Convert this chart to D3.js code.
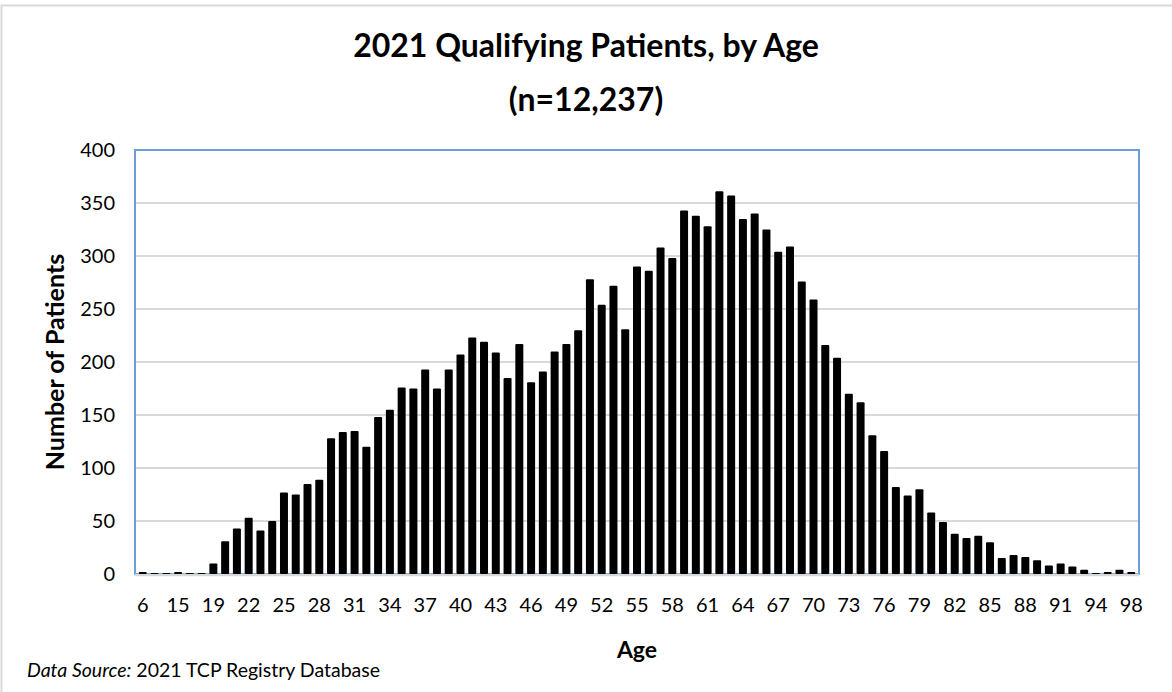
<!DOCTYPE html>
<html>
<head>
<meta charset="utf-8">
<script src="https://cdn.jsdelivr.net/npm/d3@7"></script>
<style>
  body { margin: 0; background: #fff; }
  text { font-family: Lato, "Open Sans", sans-serif; fill: #000; }
</style>
</head>
<body>
<div class="canva"></div>
<script>
// ages on the category axis (some young / old ages have no entry)
const ages = [6, 8, 13, 15, 17, 18, 19, 20, 21, 22, 23, 24, 25, 26, 27, 28, 29, 30,
  31, 32, 33, 34, 35, 36, 37, 38, 39, 40, 41, 42, 43, 44, 45, 46, 47, 48, 49, 50,
  51, 52, 53, 54, 55, 56, 57, 58, 59, 60, 61, 62, 63, 64, 65, 66, 67, 68, 69, 70,
  71, 72, 73, 74, 75, 76, 77, 78, 79, 80, 81, 82, 83, 84, 85, 86, 87, 88, 89, 90,
  91, 92, 93, 94, 95, 96, 98];

// number of patients per age
const patients = [2, 1, 1, 2, 1, 1, 10, 31, 43, 53, 41, 50, 77, 75, 85, 89, 128, 134,
  135, 120, 148, 155, 176, 175, 193, 175, 193, 207, 223, 219, 209, 185, 217, 181, 191, 210, 217, 230,
  278, 254, 272, 231, 290, 286, 308, 298, 343, 338, 328, 361, 357, 335, 340, 325, 304, 309, 276, 259,
  216, 204, 170, 162, 131, 116, 82, 74, 80, 58, 49, 38, 34, 36, 30, 15, 18, 16, 13, 8,
  10, 7, 4, 1, 2, 4, 2];

const yTicks = [0, 50, 100, 150, 200, 250, 300, 350, 400];

const W = 1172, H = 692;
const plotL = 135, plotR = 1139, plotT = 150, plotB = 574;

const svg = d3.select(".canva").append("svg")
    .attr("width", W)
    .attr("height", H);

// outer chart frame
svg.append("rect")
    .attr("x", 1.5).attr("y", 5.5)
    .attr("width", W + 10).attr("height", H + 10)
    .attr("fill", "none")
    .attr("stroke", "#d9d9d9")
    .attr("stroke-width", 2);

const x = d3.scaleBand()
    .domain(ages)
    .range([plotL, plotR])
    .padding(0.32);

const y = d3.scaleLinear()
    .domain([0, 400])
    .range([plotB, plotT]);

// gridlines
svg.append("g")
    .selectAll("line")
    .data(yTicks.filter(d => d > 0 && d < 400))
    .join("line")
    .attr("x1", plotL).attr("x2", plotR)
    .attr("y1", d => y(d)).attr("y2", d => y(d))
    .attr("stroke", "#d9d9d9")
    .attr("stroke-width", 2);

// plot area border
svg.append("rect")
    .attr("x", plotL).attr("y", plotT)
    .attr("width", plotR - plotL).attr("height", plotB - plotT)
    .attr("fill", "none")
    .attr("stroke", "#6a9fd8")
    .attr("stroke-width", 2);

// baseline
svg.append("line")
    .attr("x1", plotL).attr("x2", plotR)
    .attr("y1", plotB + 1).attr("y2", plotB + 1)
    .attr("stroke", "#d9d9d9")
    .attr("stroke-width", 2.5);

// bars
svg.append("g")
    .selectAll("rect")
    .data(ages)
    .join("rect")
    .attr("x", d => x(d))
    .attr("width", x.bandwidth())
    .attr("y", (d, i) => y(patients[i]))
    .attr("height", (d, i) => plotB - y(patients[i]))
    .attr("rx", 1)
    .attr("fill", "#000");

// y axis labels
const yAxis = d3.axisLeft(y).tickValues(yTicks).tickSize(0).tickPadding(20);
svg.append("g")
    .attr("transform", `translate(${plotL},0)`)
    .call(yAxis)
    .call(g => g.select(".domain").remove())
    .selectAll("text")
    .attr("font-size", 20)
    .attr("font-family", "Lato")
    .attr("fill", "#000");

// x axis labels, every third category
const xAxis = d3.axisBottom(x)
    .tickValues(ages.filter((d, i) => i % 3 === 0))
    .tickSize(0)
    .tickPadding(24);
svg.append("g")
    .attr("transform", `translate(0,${plotB})`)
    .call(xAxis)
    .call(g => g.select(".domain").remove())
    .selectAll("text")
    .attr("font-size", 20)
    .attr("font-family", "Lato")
    .attr("fill", "#000");

// titles
svg.append("text")
    .text("2021 Qualifying Patients, by Age")
    .attr("x", W / 2).attr("y", 57)
    .attr("text-anchor", "middle")
    .attr("font-weight", "bold")
    .attr("font-size", 32);

svg.append("text")
    .text("(n=12,237)")
    .attr("x", W / 2).attr("y", 111)
    .attr("text-anchor", "middle")
    .attr("font-weight", "bold")
    .attr("font-size", 32);

svg.append("text")
    .text("Number of Patients")
    .attr("transform", `translate(64,${(plotT + plotB) / 2}) rotate(-90)`)
    .attr("text-anchor", "middle")
    .attr("font-weight", "bold")
    .attr("font-size", 25);

svg.append("text")
    .text("Age")
    .attr("x", (plotL + plotR) / 2).attr("y", 658)
    .attr("text-anchor", "middle")
    .attr("font-weight", "bold")
    .attr("font-size", 23);

const src = svg.append("text")
    .attr("x", 27).attr("y", 677)
    .attr("font-size", 19.5);
src.append("tspan").attr("font-style", "italic").text("Data Source:");
src.append("tspan").text(" 2021 TCP Registry Database");
</script>
</body>
</html>
